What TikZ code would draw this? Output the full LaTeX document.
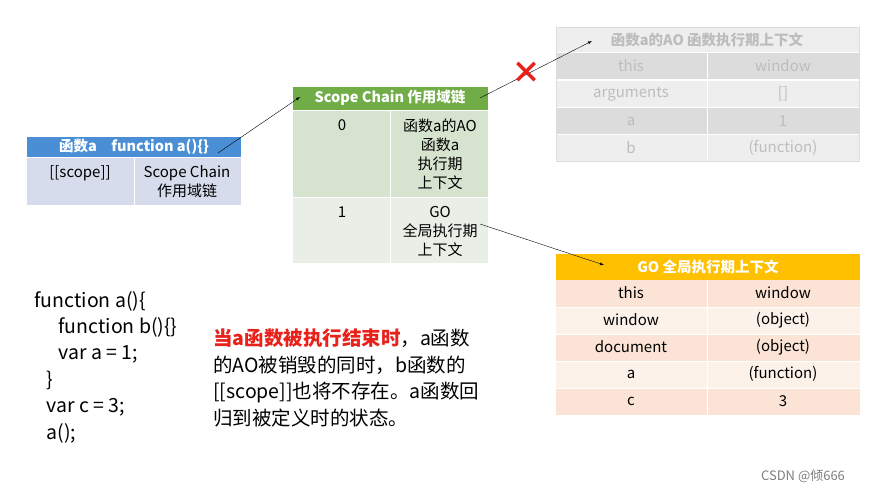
\documentclass[tikz,border=0pt]{standalone}
\usepackage{fontspec}
\setmainfont{Noto Sans CJK SC}
\usetikzlibrary{positioning}
\definecolor{hdrblue}{HTML}{4A8FD6}
\definecolor{bodyblue}{HTML}{D6DCEC}
\definecolor{hdrgreen}{HTML}{70AD47}
\definecolor{rowgreen}{HTML}{D5E3CF}
\definecolor{rowgreenb}{HTML}{E9EFE6}
\definecolor{hdrorange}{HTML}{FFC000}
\definecolor{roworange}{HTML}{FBE4D5}
\definecolor{roworangeb}{HTML}{FDF2EA}
\definecolor{fadedark}{HTML}{DCDCDC}
\definecolor{fadelight}{HTML}{EEEEEE}
\definecolor{fadetext}{HTML}{BDBDBD}
\definecolor{redtext}{HTML}{E8221B}
\begin{document}
\begin{tikzpicture}[x=1pt,y=-1pt,font=\fontsize{15}{19}\selectfont,
    cell/.style={align=center},
    hdr/.style={font=\fontsize{14.5}{17}\selectfont\bfseries,text=white},
    code/.style={anchor=west,font=\fontsize{19.5}{22}\selectfont},
    link/.style={-latex,thin}]
  \useasboundingbox[fill=white] (0,0) rectangle (884,495);
  % blue table
  \fill[hdrblue] (27,137) rectangle (241,157);
  \fill[bodyblue] (27,158) rectangle (241,205);
  \draw[white,thick] (134,158) -- (134,205);
  \node[hdr] (fa) at (134,147) {函数a\quad function a()\{\}};
  \node[cell] (scope) at (80,173) {{[[scope]]}};
  \node[cell] (sc) at (187,182) {Scope Chain\\作用域链};
  % green table
  \fill[hdrgreen] (293,87) rectangle (488,110);
  \fill[rowgreen] (293,111) rectangle (488,197);
  \fill[rowgreenb] (293,198) rectangle (488,263);
  \draw[white,thick] (390,111) -- (390,263);
  \node[hdr] (chain) at (390,98) {Scope Chain 作用域链};
  \node[cell] (n0) at (342,125) {0};
  \node[cell] (ao) at (440,154) {函数a的AO\\函数a\\执行期\\上下文};
  \node[cell] (n1) at (342,212) {1};
  \node[cell] (go) at (440,231) {GO\\全局执行期\\上下文};
  % faded AO table
  \fill[fadelight] (556,27) rectangle (859,52);
  \foreach \y/\c in {52/fadedark,80/fadelight,107/fadedark,134/fadelight}
    \fill[\c] (556,\y) rectangle (859,\y+27);
  \draw[white,thick] (707,52) -- (707,161);
  \foreach \y in {52,80,107,134} \draw[white,thick] (556,\y) -- (859,\y);
  \draw[fadedark] (556,27) rectangle (859,161);
  \node[text=fadetext,font=\fontsize{14.5}{17}\selectfont\bfseries] (aohdr) at (707,40) {函数a的AO 函数执行期上下文};
  \foreach \y/\k/\v in {66/this/window,94/arguments/{[]},121/a/1,148/b/(function)} {
    \node[text=fadetext] at (631,\y) {\k};
    \node[text=fadetext] at (783,\y) {\v};
  }
  % orange GO table
  \fill[hdrorange] (556,254) rectangle (860,280);
  \foreach \y/\c in {280/roworange,307/roworangeb,334/roworange,361/roworangeb,388/roworange}
    \fill[\c] (556,\y) rectangle (860,\y+27);
  \foreach \y in {307,334,361,388} \draw[white,thick] (556,\y) -- (860,\y);
  \draw[white,thick] (707,280) -- (707,415);
  \node[hdr] (gohdr) at (708,267) {GO 全局执行期上下文};
  \foreach \y/\k/\v in {293/this/window,320/window/(object),347/document/(object),374/a/(function),401/c/3} {
    \node at (631,\y) {\k};
    \node at (783,\y) {\v};
  }
  % connectors
  \coordinate (faend) at (218,153);
  \coordinate (chainin) at (300,97);
  \coordinate (chainout) at (480,98);
  \coordinate (aoin) at (592,41);
  \coordinate (goout) at (480,224);
  \coordinate (goin) at (604,265);
  \draw[link] (faend) -- (chainin);
  \draw[link] (chainout) -- (aoin);
  \draw[link] (goout) -- (goin);
  \node[text=redtext,font=\fontsize{30}{30}\selectfont\bfseries] (cross) at (526,73) {×};
  % code
  \node[code] (c1) at (31,301) {function a()\{};
  \node[code] (c2) at (55,327) {function b()\{\}};
  \node[code] (c3) at (55,354) {var a = 1;};
  \node[code] (c4) at (43,380) {\}};
  \node[code] (c5) at (43,407) {var c = 3;};
  \node[code] (c6) at (43,433) {a();};
  % note
  \node[anchor=west,align=left,font=\fontsize{19.5}{26.7}\selectfont,inner sep=0pt] (note) at (213,378)
    {\textcolor{redtext}{\bfseries 当a函数被执行结束时}，a函数\\的AO被销毁的同时，b函数的\\{}[[scope]]也将不存在。a函数回\\归到被定义时的状态。};
  \node[text=gray,font=\fontsize{13}{15}\selectfont] (mark) at (803,476) {CSDN @倾666};
\end{tikzpicture}
\end{document}
